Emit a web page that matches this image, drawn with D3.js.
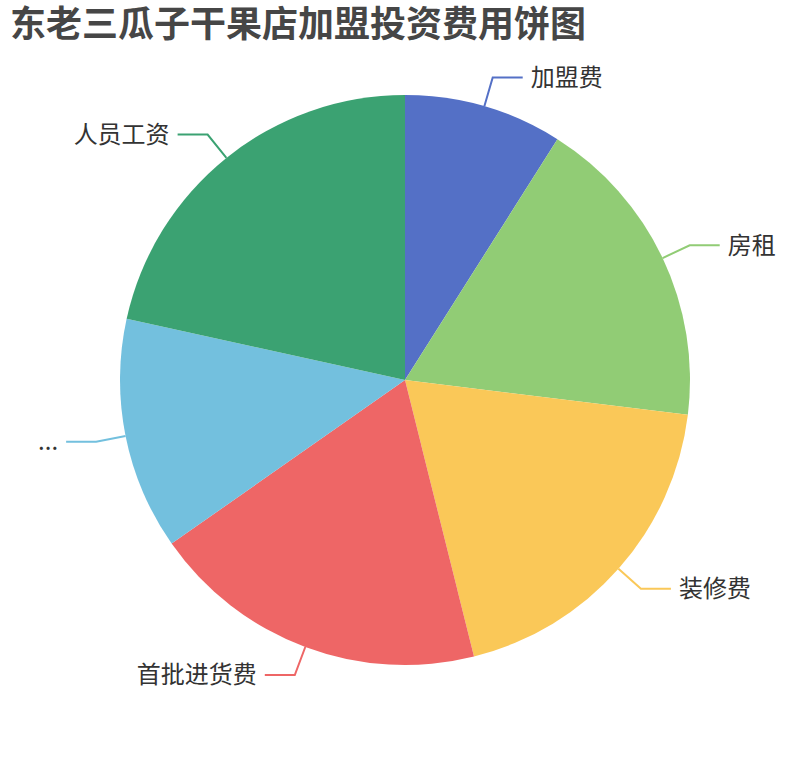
<!DOCTYPE html>
<html>
<head>
<meta charset="utf-8">
<script src="https://cdn.jsdelivr.net/npm/d3@7"></script>
<style>
  body { margin: 0; background: #fff; }
  text { font-family: "Noto Sans CJK SC", "Noto Sans", sans-serif; }
</style>
</head>
<body>
<div id="chart"></div>
<script>
// data (units guessed, proportions matter)
const categories = ['加盟费', '房租', '装修费', '首批进货费', '...', '人员工资'];
const values = [1.5, 3, 3.2, 3.2, 2.2, 3.6];
const colors = ['#5470c6', '#91cc75', '#fac858', '#ee6666', '#73c0de', '#3ba272'];
const title = '东老三瓜子干果店加盟投资费用饼图';

const width = 810, height = 760;
const cx = 405, cy = 380, radius = 285;
const len1 = 30, len2 = 30, gap = 8;

const data = categories.map((name, i) => ({ name, value: values[i] }));

const svg = d3.select('#chart').append('svg')
  .attr('width', width)
  .attr('height', height);

svg.append('text')
  .attr('x', 10)
  .attr('y', 37)
  .attr('font-size', 36)
  .attr('font-weight', 'bold')
  .attr('fill', '#464646')
  .text(title);

const color = d3.scaleOrdinal().domain(categories).range(colors);

const pie = d3.pie()
  .value(d => d.value)
  .sort(null);

const arc = d3.arc()
  .innerRadius(0)
  .outerRadius(radius);

const arcs = pie(data);
const g = svg.append('g').attr('transform', `translate(${cx},${cy})`);

g.selectAll('path.slice')
  .data(arcs)
  .join('path')
  .attr('class', 'slice')
  .attr('d', arc)
  .attr('fill', d => color(d.data.name));

// label lines: radial segment then horizontal
const pt = (a, r) => [Math.sin(a) * r, -Math.cos(a) * r];

arcs.forEach(d => {
  const mid = (d.startAngle + d.endAngle) / 2;
  const p0 = pt(mid, radius);
  const p1 = pt(mid, radius + len1);
  const right = Math.sin(mid) >= 0;
  const p2 = [p1[0] + (right ? len2 : -len2), p1[1]];

  g.append('path')
    .attr('d', d3.line()([p0, p1, p2]))
    .attr('fill', 'none')
    .attr('stroke', color(d.data.name))
    .attr('stroke-width', 2);

  g.append('text')
    .attr('x', p2[0] + (right ? gap : -gap))
    .attr('y', p2[1])
    .attr('dy', '0.35em')
    .attr('text-anchor', right ? 'start' : 'end')
    .attr('font-size', 24)
    .attr('fill', '#333')
    .text(d.data.name);
});
</script>
</body>
</html>
